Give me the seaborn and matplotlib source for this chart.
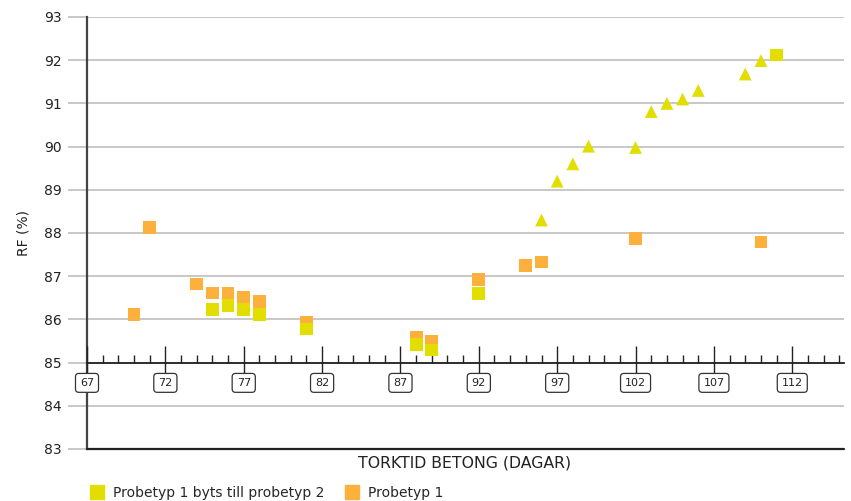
import numpy as np
import pandas as pd
import matplotlib
matplotlib.use("Agg")
import matplotlib.pyplot as plt
from matplotlib.lines import Line2D
from matplotlib.ticker import MultipleLocator
import seaborn as sns

# Data
orange_x = [70, 71, 74, 75, 76, 77, 78, 81, 88, 89, 92, 95, 96, 102, 110]
orange_y = [86.12, 88.12, 86.82, 86.61, 86.61, 86.51, 86.42, 85.92, 85.59, 85.48,
            86.92, 87.24, 87.33, 87.88, 87.79]

yellow_sq_x = [75, 76, 77, 78, 81, 88, 89, 92, 111]
yellow_sq_y = [86.22, 86.33, 86.22, 86.12, 85.78, 85.41, 85.29, 86.6, 92.12]

yellow_tri_x = [96, 97, 98, 99, 102, 103, 104, 105, 106, 109, 110]
yellow_tri_y = [88.3, 89.2, 89.6, 90.01, 89.98, 90.81, 91.0, 91.1, 91.3, 91.68, 91.99]

s1 = "Probetyp 1"
s2 = "Probetyp 1 byts till probetyp 2"

df = pd.concat([
    pd.DataFrame({"dag": orange_x, "rf": orange_y, "serie": s1, "form": "sq"}),
    pd.DataFrame({"dag": yellow_sq_x, "rf": yellow_sq_y, "serie": s2, "form": "sq"}),
    pd.DataFrame({"dag": yellow_tri_x, "rf": yellow_tri_y, "serie": s2, "form": "tri"}),
], ignore_index=True)

YELLOW = "#e2de00"
ORANGE = "#fdb03c"
TXT = "#222222"

sns.set_style("white")
plt.rcParams["font.family"] = ["DejaVu Sans"]

fig = plt.figure(figsize=(8.51, 5.01), dpi=100)
ax = fig.add_axes([87 / 851, 1 - 449 / 501, (844 - 87) / 851, (449 - 17) / 501])

sns.scatterplot(data=df, x="dag", y="rf", hue="serie", style="form",
                palette={s1: ORANGE, s2: YELLOW}, markers={"sq": "s", "tri": "^"},
                s=85, linewidth=0, legend=False, ax=ax, zorder=5)

ax.set_xlim(67, 115.3)
ax.set_ylim(83, 93)

# horizontal grid
ax.set_yticks(range(83, 94))
ax.yaxis.grid(True, color="#c4c4c4", lw=1.3)
ax.xaxis.grid(False)
ax.tick_params(axis="y", length=14, width=1.3, color="#c4c4c4", labelsize=10,
               labelcolor=TXT, pad=4, left=True)

# x axis line sits at RF 85
for s in ["top", "right"]:
    ax.spines[s].set_visible(False)
ax.spines["left"].set_color("#444444")
ax.spines["left"].set_linewidth(1.6)
ax.spines["bottom"].set_position(("data", 85))
ax.spines["bottom"].set_color(TXT)
ax.spines["bottom"].set_linewidth(1.3)
ax.axhline(83, color=TXT, lw=1.6, zorder=3, clip_on=False)

ax.xaxis.set_major_locator(MultipleLocator(5, offset=2))
ax.xaxis.set_minor_locator(MultipleLocator(1))
ax.tick_params(axis="x", which="major", direction="inout", length=24, width=1.0,
               color=TXT, labelsize=8, labelcolor=TXT, pad=-1, bottom=True)
ax.tick_params(axis="x", which="minor", direction="in", length=6, width=1.0,
               color=TXT, bottom=True)
ax.xaxis.set_zorder(3)
for lab in ax.get_xticklabels():
    lab.set_bbox(dict(boxstyle="round,pad=0.4,rounding_size=0.3", fc="white",
                      ec="#333333", lw=0.9))

ax.set_xlabel("")
ax.set_ylabel("RF (%)", fontsize=10, color=TXT, labelpad=10)
fig.text(465 / 851, 1 - 463 / 501, "TORKTID BETONG (DAGAR)", ha="center", va="center",
         fontsize=11.3, color=TXT)

handles = [Line2D([], [], marker="s", ls="", color=YELLOW, markersize=10),
           Line2D([], [], marker="s", ls="", color=ORANGE, markersize=10)]
fig.legend(handles, [s2, s1], loc="upper left", bbox_to_anchor=(90 / 851, 1 - 486 / 501),
           ncol=2, frameon=False, fontsize=10, handlelength=1.0, handletextpad=0.65,
           columnspacing=1.5, borderpad=0, borderaxespad=0)

fig.savefig("out.png", dpi=100)
